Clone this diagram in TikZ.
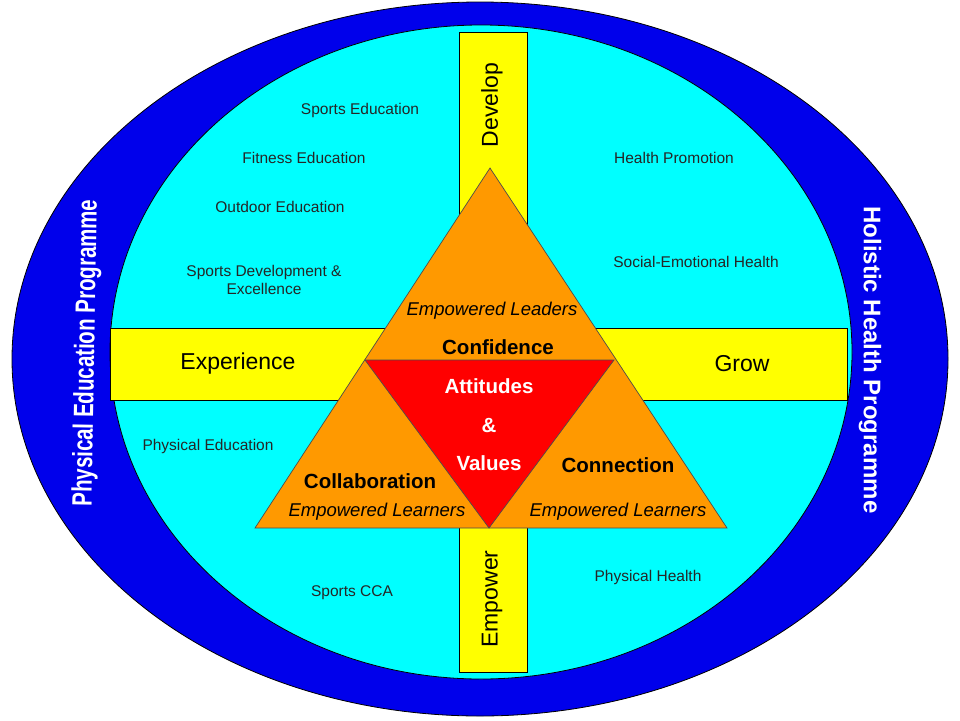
\documentclass[tikz,border=0pt]{standalone}
\usepackage{fontspec}
\setmainfont{Liberation Sans}
\definecolor{ringblue}{RGB}{0,0,235}
\definecolor{innercyan}{RGB}{0,255,255}
\definecolor{baryellow}{RGB}{255,255,0}
\definecolor{triorange}{RGB}{255,153,0}
\definecolor{trired}{RGB}{255,0,0}
\begin{document}
\begin{tikzpicture}[x=1pt,y=-1pt,
  small/.style={font=\fontsize{15.5}{18}\selectfont, text=black!85, align=center, inner sep=0pt},
  bartext/.style={font=\fontsize{23}{26}\selectfont, inner sep=0pt},
  boldtext/.style={font=\fontsize{20.5}{24}\selectfont\bfseries, inner sep=0pt},
  itext/.style={font=\fontsize{18.5}{22}\selectfont\itshape, inner sep=0pt},
  ringtext/.style={font=\bfseries, text=white, inner sep=0pt},
  outline/.style={draw=black, line width=0.8pt}]
\useasboundingbox (0,0) rectangle (960,720);
\fill[white] (0,0) rectangle (960,720);
% rings
\draw[outline, fill=ringblue] (480,359) ellipse [x radius=468pt, y radius=357pt];
\draw[outline, fill=innercyan] (481,352) ellipse [x radius=371pt, y radius=327pt];
% bars
\draw[outline, fill=baryellow] (459,32) rectangle (527,672);
\draw[outline, fill=baryellow] (110,328) rectangle (847,400);
% triangles
\coordinate (apex) at (490,168);
\coordinate (bl) at (255,528);
\coordinate (br) at (727,528);
\coordinate (rl) at (365,360);
\coordinate (rr) at (614,360);
\coordinate (rb) at (489,528);
\draw[draw=black!70, line width=0.7pt, fill=triorange] (apex) -- (bl) -- (br) -- cycle;
\draw[draw=black!70, line width=0.7pt, fill=trired] (rl) -- (rr) -- (rb) -- cycle;
% ring labels
\node[ringtext, rotate=89] (pep) at (87,353) {\fontsize{28}{32}\selectfont\scalebox{0.73}[1]{Physical Education Programme}};
\node[ringtext, rotate=-90] (hhp) at (870,360) {\fontsize{24}{28}\selectfont Holistic Health Programme};
% bar labels
\node[bartext, rotate=90] (develop) at (492,105) {Develop};
\node[bartext, rotate=90] (empower) at (492,599) {Empower};
\node[bartext] (experience) at (238,364) {Experience};
\node[bartext] (grow) at (742,364) {Grow};
% left items
\node[small] (sped) at (360,110) {Sports Education};
\node[small] (fited) at (304,158) {Fitness Education};
\node[small] (outed) at (280,207) {Outdoor Education};
\node[small] (spdev) at (264,280) {Sports Development \&\\Excellence};
\node[small] (physed) at (208,446) {Physical Education};
\node[small] (cca) at (352,593) {Sports CCA};
% right items
\node[small] (healthp) at (674,158) {Health Promotion};
\node[small] (social) at (696,262) {Social-Emotional Health};
\node[small] (physh) at (648,577) {Physical Health};
% triangle texts
\node[itext] (leaders) at (492,311) {Empowered Leaders};
\node[boldtext] (confidence) at (498,347) {Confidence};
\node[boldtext, text=white] (attitudes) at (489,386) {Attitudes};
\node[boldtext, text=white] (amp) at (489,426) {\&};
\node[boldtext, text=white] (values) at (489,463) {Values};
\node[boldtext] (collab) at (370,481) {Collaboration};
\node[itext] (learnl) at (377,512) {Empowered Learners};
\node[boldtext] (connection) at (618,465) {Connection};
\node[itext] (learnr) at (618,512) {Empowered Learners};
\end{tikzpicture}
\end{document}
